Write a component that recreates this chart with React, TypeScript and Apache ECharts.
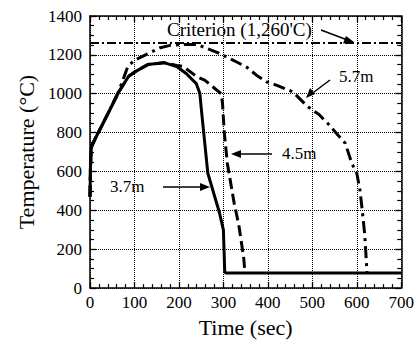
import React, { useEffect, useRef } from "react";
import * as echarts from "echarts";

const xTicks = [0, 100, 200, 300, 400, 500, 600, 700];
const yTicks = [0, 200, 400, 600, 800, 1000, 1200, 1400];
const criterion = 1260;

const time37 = [0, 1, 3, 13, 28, 43, 65, 87, 100, 130, 166, 195, 217, 239, 247, 250, 265, 291, 300, 303, 305, 700];
const temp37 = [470, 620, 725, 775, 842, 910, 1010, 1090, 1111, 1150, 1160, 1140, 1103, 1052, 1002, 930, 591, 389, 300, 85, 78, 78];

const time45 = [0, 1, 3, 13, 28, 43, 65, 87, 100, 130, 166, 195, 210, 240, 258, 276, 295, 298, 302, 309, 324, 335, 346, 348];
const temp45 = [470, 620, 725, 775, 842, 910, 1010, 1090, 1111, 1150, 1160, 1145, 1140, 1088, 1070, 1036, 1000, 950, 800, 640, 440, 320, 150, 88];

const time57 = [0, 1, 3, 13, 28, 43, 65, 85, 100, 136, 158, 180, 210, 240, 287, 331, 353, 375, 397, 419, 456, 489, 515, 537, 556, 574, 589, 600, 607, 612, 618, 623];
const temp57 = [470, 620, 725, 775, 842, 910, 1015, 1140, 1172, 1212, 1237, 1249, 1254, 1254, 1212, 1162, 1136, 1094, 1061, 1044, 1010, 935, 893, 842, 792, 745, 641, 591, 507, 406, 272, 80];

const FONT = "Liberation Serif";

const zip = (a: number[], b: number[]) => a.map((v, i) => [v, b[i]]);

function makeAxis(min: number, max: number, interval: number, minorSplit: number, extra: any) {
  return {
    type: "value",
    min,
    max,
    interval,
    axisLine: { show: true, onZero: false, lineStyle: { color: "#000", width: 1.5 } },
    axisTick: { show: true, inside: true, length: 6, lineStyle: { color: "#000", width: 1.3 } },
    minorTick: { show: true, splitNumber: minorSplit, length: 4, lineStyle: { color: "#000", width: 1.2 } },
    minorSplitLine: { show: false },
    ...extra,
  };
}

export default function App() {
  const ref = useRef<HTMLDivElement>(null);
  useEffect(() => {
    if (!ref.current) return;
    const chart = echarts.init(ref.current, null, { renderer: "svg" });
    const xMin = xTicks[0];
    const xMax = xTicks[xTicks.length - 1];
    const yMin = yTicks[0];
    const yMax = yTicks[yTicks.length - 1];
    chart.setOption({
      animation: false,
      backgroundColor: "#fff",
      grid: { left: 90, right: 10, top: 16, bottom: 49, containLabel: false },
      xAxis: [
        makeAxis(xMin, xMax, 100, 5, {
          position: "bottom",
          splitLine: { show: true, lineStyle: { color: "#000", type: "dotted", width: 1 } },
          axisLabel: { show: true, color: "#000", fontFamily: FONT, fontSize: 17, margin: 6, formatter: (v: number) => String(v) },
          name: "Time (sec)",
          nameLocation: "middle",
          nameGap: 27,
          nameTextStyle: { color: "#000", fontFamily: FONT, fontSize: 22 },
        }),
        makeAxis(xMin, xMax, 100, 5, {
          position: "top",
          splitLine: { show: false },
          axisLabel: { show: false },
        }),
      ],
      yAxis: [
        makeAxis(yMin, yMax, 200, 4, {
          position: "left",
          splitLine: { show: true, lineStyle: { color: "#000", type: "dotted", width: 1 } },
          axisLabel: { show: true, color: "#000", fontFamily: FONT, fontSize: 17, margin: 8, formatter: (v: number) => String(v) },
          name: "Temperature (°C)",
          nameLocation: "middle",
          nameGap: 50,
          nameTextStyle: { color: "#000", fontFamily: FONT, fontSize: 22 },
        }),
        makeAxis(yMin, yMax, 200, 4, {
          position: "right",
          splitLine: { show: false },
          axisLabel: { show: false },
        }),
      ],
      series: [
        {
          name: "3.7m",
          type: "line",
          data: zip(time37, temp37),
          showSymbol: false,
          lineStyle: { color: "#000", width: 3 },
          z: 3,
        },
        {
          name: "4.5m",
          type: "line",
          data: zip(time45, temp45),
          showSymbol: false,
          lineStyle: { color: "#000", width: 3, type: [11, 5] },
          z: 2,
        },
        {
          name: "5.7m",
          type: "line",
          data: zip(time57, temp57),
          showSymbol: false,
          lineStyle: { color: "#000", width: 3, type: [12, 5, 3, 5] },
          z: 2,
          markLine: {
            silent: true,
            symbol: "none",
            label: { show: false },
            lineStyle: { color: "#000", width: 2, type: [9, 3, 2, 3] },
            data: [{ yAxis: criterion }],
          },
        },
      ],
      graphic: [
        { type: "text", left: 167, top: 20, style: { text: "Criterion (1,260'C)", font: `19px "${FONT}"`, fill: "#000" } },
        { type: "line", shape: { x1: 321, y1: 30, x2: 350, y2: 41 }, style: { stroke: "#000", lineWidth: 1.5 } },
        { type: "polygon", shape: { points: [[354, 42], [343, 43.5], [346, 36]] }, style: { fill: "#000" } },

        { type: "text", left: 339, top: 68, style: { text: "5.7m", font: `17px "${FONT}"`, fill: "#000" } },
        { type: "line", shape: { x1: 330, y1: 80, x2: 310, y2: 95 }, style: { stroke: "#000", lineWidth: 1.5 } },
        { type: "polygon", shape: { points: [[306, 98], [310, 88], [315, 94]] }, style: { fill: "#000" } },

        { type: "text", left: 282, top: 145, style: { text: "4.5m", font: `17px "${FONT}"`, fill: "#000" } },
        { type: "line", shape: { x1: 272, y1: 154, x2: 236, y2: 154 }, style: { stroke: "#000", lineWidth: 1.5 } },
        { type: "polygon", shape: { points: [[231, 154], [241, 150], [241, 158]] }, style: { fill: "#000" } },

        { type: "text", left: 110, top: 178, style: { text: "3.7m", font: `17px "${FONT}"`, fill: "#000" } },
        { type: "line", shape: { x1: 163, y1: 187, x2: 204, y2: 187 }, style: { stroke: "#000", lineWidth: 1.5 } },
        { type: "polygon", shape: { points: [[210, 187], [200, 183], [200, 191]] }, style: { fill: "#000" } },
      ],
    });
    return () => chart.dispose();
  }, []);
  return <div ref={ref} style={{ position: "fixed", left: 0, top: 0, width: 417, height: 343 }} />;
}
